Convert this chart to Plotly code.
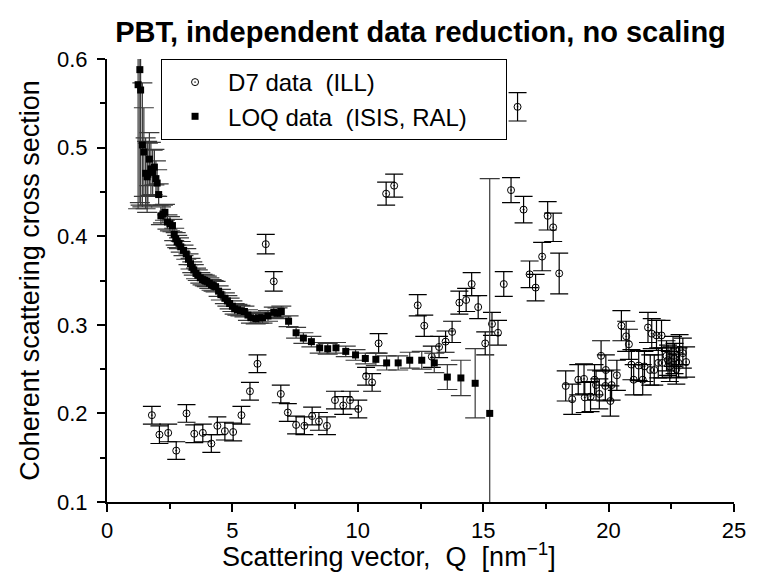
import plotly.graph_objects as go

# ---------------- data ----------------
# D7 data (ILL): Q [nm^-1], cross section, error
d7_q = [1.79, 2.09, 2.44, 2.76, 3.17, 3.48, 3.82, 4.16, 4.40, 4.70, 5.03, 5.36, 5.70, 6.00,
        6.33, 6.65, 6.93, 7.21, 7.54, 7.87, 8.18, 8.45, 8.77, 9.09, 9.42, 9.69, 10.02, 10.33,
        10.57, 10.83, 11.13, 11.45, 12.39, 12.65, 12.95, 13.24, 13.50, 13.76, 14.05, 14.32,
        14.54, 14.80, 15.08, 15.35, 15.59, 15.82, 16.11, 16.37, 16.61, 16.85, 17.09, 17.35,
        17.57, 17.79, 18.03,
        18.29, 18.55, 18.79, 19.02, 19.05, 19.28, 19.44, 19.50, 19.63, 19.70, 19.87, 19.89,
        20.07, 20.12, 20.33, 20.51, 20.70, 20.81, 20.91, 21.00, 21.20, 21.36, 21.43, 21.57,
        21.66, 21.72, 21.82, 21.91, 21.98, 22.11, 22.14, 22.31, 22.37, 22.44, 22.50, 22.57,
        22.63, 22.70, 22.79, 22.83, 22.96, 23.09]
d7_s = [0.198, 0.176, 0.178, 0.158, 0.200, 0.177, 0.178, 0.166, 0.186, 0.180, 0.179, 0.198, 0.225, 0.256,
        0.391, 0.349, 0.222, 0.201, 0.187, 0.186, 0.197, 0.191, 0.186, 0.215, 0.209, 0.215, 0.205, 0.242,
        0.235, 0.279, 0.448, 0.457, 0.322, 0.299, 0.264, 0.275, 0.281, 0.292, 0.325, 0.328,
        0.346, 0.320, 0.279, 0.301, 0.291, 0.346, 0.452, 0.546, 0.430, 0.357, 0.342, 0.377,
        0.423, 0.410, 0.358,
        0.231, 0.216, 0.238, 0.239, 0.218, 0.219, 0.238, 0.232, 0.222, 0.265, 0.231, 0.249,
        0.214, 0.232, 0.243, 0.299, 0.287, 0.278, 0.255, 0.238, 0.254, 0.238, 0.253, 0.297,
        0.249, 0.290, 0.249, 0.288, 0.257, 0.288, 0.257, 0.265, 0.260, 0.253, 0.258, 0.270,
        0.262, 0.250, 0.257, 0.272, 0.268, 0.258]
d7_e = [0.010, 0.010, 0.010, 0.010, 0.010, 0.010, 0.010, 0.010, 0.010, 0.010, 0.010, 0.010, 0.010, 0.010,
        0.011, 0.011, 0.010, 0.010, 0.010, 0.010, 0.010, 0.010, 0.010, 0.010, 0.010, 0.010, 0.010, 0.010,
        0.010, 0.011, 0.013, 0.013, 0.012, 0.012, 0.012, 0.012, 0.012, 0.012, 0.013, 0.013,
        0.013, 0.013, 0.013, 0.013, 0.014, 0.014, 0.014, 0.016, 0.015, 0.015, 0.015, 0.016,
        0.016, 0.016, 0.023,
        0.017, 0.017, 0.017, 0.017, 0.017, 0.017, 0.017, 0.017, 0.017, 0.017, 0.017, 0.017,
        0.017, 0.017, 0.017, 0.017, 0.017, 0.017, 0.017, 0.017, 0.017, 0.017, 0.017, 0.017,
        0.017, 0.017, 0.017, 0.017, 0.017, 0.017, 0.017, 0.017, 0.017, 0.017, 0.017, 0.017,
        0.017, 0.017, 0.017, 0.017, 0.017, 0.017]

# LOQ data (ISIS, RAL)
loq_q = [1.24, 1.31, 1.34, 1.41, 1.47, 1.54, 1.60, 1.63, 1.69, 1.75, 1.82, 1.89, 1.95, 2.00,
         2.06, 2.15, 2.23, 2.31, 2.41, 2.51, 2.61, 2.68, 2.74, 2.80, 2.87, 2.94, 3.05, 3.16,
         3.25, 3.33, 3.40, 3.46, 3.55, 3.62, 3.72, 3.81, 3.90, 3.98, 4.08, 4.17, 4.25, 4.33,
         4.45, 4.54, 4.70, 4.80, 4.89, 5.00, 5.09, 5.20, 5.32, 5.48, 5.62, 5.74, 5.93, 6.05,
         6.20, 6.42, 6.65, 6.80, 6.95, 7.24, 7.54, 7.83, 8.15, 8.48, 8.80, 9.13, 9.52, 9.91,
         10.30, 10.72, 11.15, 11.61, 12.07, 12.55, 13.05, 13.57, 14.11, 14.68, 15.26]
loq_s = [0.571, 0.588, 0.565, 0.503, 0.495, 0.471, 0.467, 0.470, 0.487, 0.476, 0.472, 0.478, 0.465, 0.460,
         0.447, 0.423, 0.425, 0.427, 0.416, 0.414, 0.412, 0.402, 0.397, 0.394, 0.392, 0.388, 0.384, 0.380,
         0.374, 0.369, 0.365, 0.362, 0.358, 0.356, 0.353, 0.351, 0.350, 0.349, 0.347, 0.345, 0.344, 0.343,
         0.338, 0.334, 0.330, 0.327, 0.324, 0.321, 0.318, 0.317, 0.316, 0.315, 0.311, 0.308, 0.307, 0.308,
         0.308, 0.310, 0.314, 0.313, 0.315, 0.304, 0.291, 0.285, 0.281, 0.274, 0.273, 0.274, 0.270, 0.266,
         0.262, 0.261, 0.257, 0.257, 0.260, 0.260, 0.257, 0.241, 0.240, 0.234, 0.200]
loq_e = [0.140, 0.150, 0.130, 0.070, 0.050, 0.040, 0.040, 0.035, 0.030, 0.030, 0.025, 0.020, 0.020, 0.015,
         0.012, 0.010, 0.010, 0.009, 0.008, 0.008, 0.007, 0.007, 0.007, 0.007, 0.006, 0.006, 0.006, 0.006,
         0.006, 0.006, 0.006, 0.006, 0.006, 0.006, 0.006, 0.006, 0.006, 0.006, 0.006, 0.006, 0.006, 0.006,
         0.006, 0.006, 0.006, 0.006, 0.006, 0.006, 0.006, 0.006, 0.006, 0.006, 0.006, 0.006, 0.006, 0.006,
         0.006, 0.006, 0.006, 0.006, 0.006, 0.006, 0.006, 0.006, 0.006, 0.006, 0.006, 0.006, 0.006, 0.006,
         0.006, 0.007, 0.008, 0.008, 0.009, 0.010, 0.011, 0.014, 0.020, 0.039, 0.265]

x_ticks = [0, 5, 10, 15, 20, 25]
y_ticks = [0.1, 0.2, 0.3, 0.4, 0.5, 0.6]

FONT = "Liberation Sans, Arial, sans-serif"
NB = "\u00a0"
PAD = NB * 4 + '<span style="color:white">.</span>'

fig = go.Figure()
fig.add_trace(go.Scatter(
    x=d7_q, y=d7_s, mode="markers",
    name=f"D7 data{NB}{NB}(ILL)",
    marker=dict(symbol="circle-open-dot", size=7, color="black", line=dict(width=1, color="black")),
    error_y=dict(type="data", array=d7_e, visible=True, color="black", thickness=1.2, width=9),
))
fig.add_trace(go.Scatter(
    x=loq_q, y=loq_s, mode="markers",
    name=f"LOQ data{NB}{NB}(ISIS, RAL){PAD}",
    marker=dict(symbol="square", size=7, color="black", line=dict(width=0)),
    error_y=dict(type="data", array=loq_e, visible=True, color="#3a3a3a", thickness=1.2, width=10),
))

fig.update_layout(
    width=758, height=576,
    margin=dict(l=107, r=13, t=59, b=74, pad=0),
    paper_bgcolor="white", plot_bgcolor="white",
    font=dict(family=FONT, size=22, color="black"),
    title=dict(text="<b>PBT, independent data reduction, no scaling</b>",
               font=dict(family=FONT, size=29, color="black"),
               x=0.5, xanchor="center", xref="paper",
               y=1 - 32 / 576, yanchor="middle", yref="container"),
    showlegend=True,
    legend=dict(x=(162 - 107) / 638, y=1.0, xanchor="left", yanchor="top",
                bgcolor="white", bordercolor="black", borderwidth=1,
                font=dict(family=FONT, size=24, color="black"),
                itemwidth=56, tracegroupgap=0),
    annotations=[dict(
        text=f"Scattering vector,{NB}{NB}Q{NB}{NB}[nm<sup>\u22121</sup>]",
        xref="paper", yref="paper", x=0.449, y=-(555 - 502) / 443,
        xanchor="center", yanchor="middle", showarrow=False,
        font=dict(family=FONT, size=27, color="black"),
    )],
)
fig.update_xaxes(
    range=[0, 25], tickvals=x_ticks, ticktext=[str(v) for v in x_ticks],
    showline=True, linecolor="black", linewidth=2, mirror=False,
    ticks="outside", ticklen=8, tickwidth=2, tickcolor="black",
    minor=dict(ticks="outside", ticklen=5, tickwidth=2, tickcolor="black", dtick=2.5, showgrid=False),
    showgrid=False, zeroline=False,
    tickfont=dict(family=FONT, size=22),
)
fig.update_yaxes(
    range=[0.1, 0.6], tickvals=y_ticks, ticktext=[f"{v:.1f}" for v in y_ticks],
    showline=True, linecolor="black", linewidth=2, mirror=False,
    ticks="outside", ticklen=8, tickwidth=2, tickcolor="black",
    minor=dict(ticks="outside", ticklen=5, tickwidth=2, tickcolor="black", dtick=0.05, showgrid=False),
    showgrid=False, zeroline=False,
    tickfont=dict(family=FONT, size=22), ticklabelstandoff=5,
    title=dict(text="Coherent scattering cross section", font=dict(family=FONT, size=27), standoff=10),
)

fig.write_html("out.html")
